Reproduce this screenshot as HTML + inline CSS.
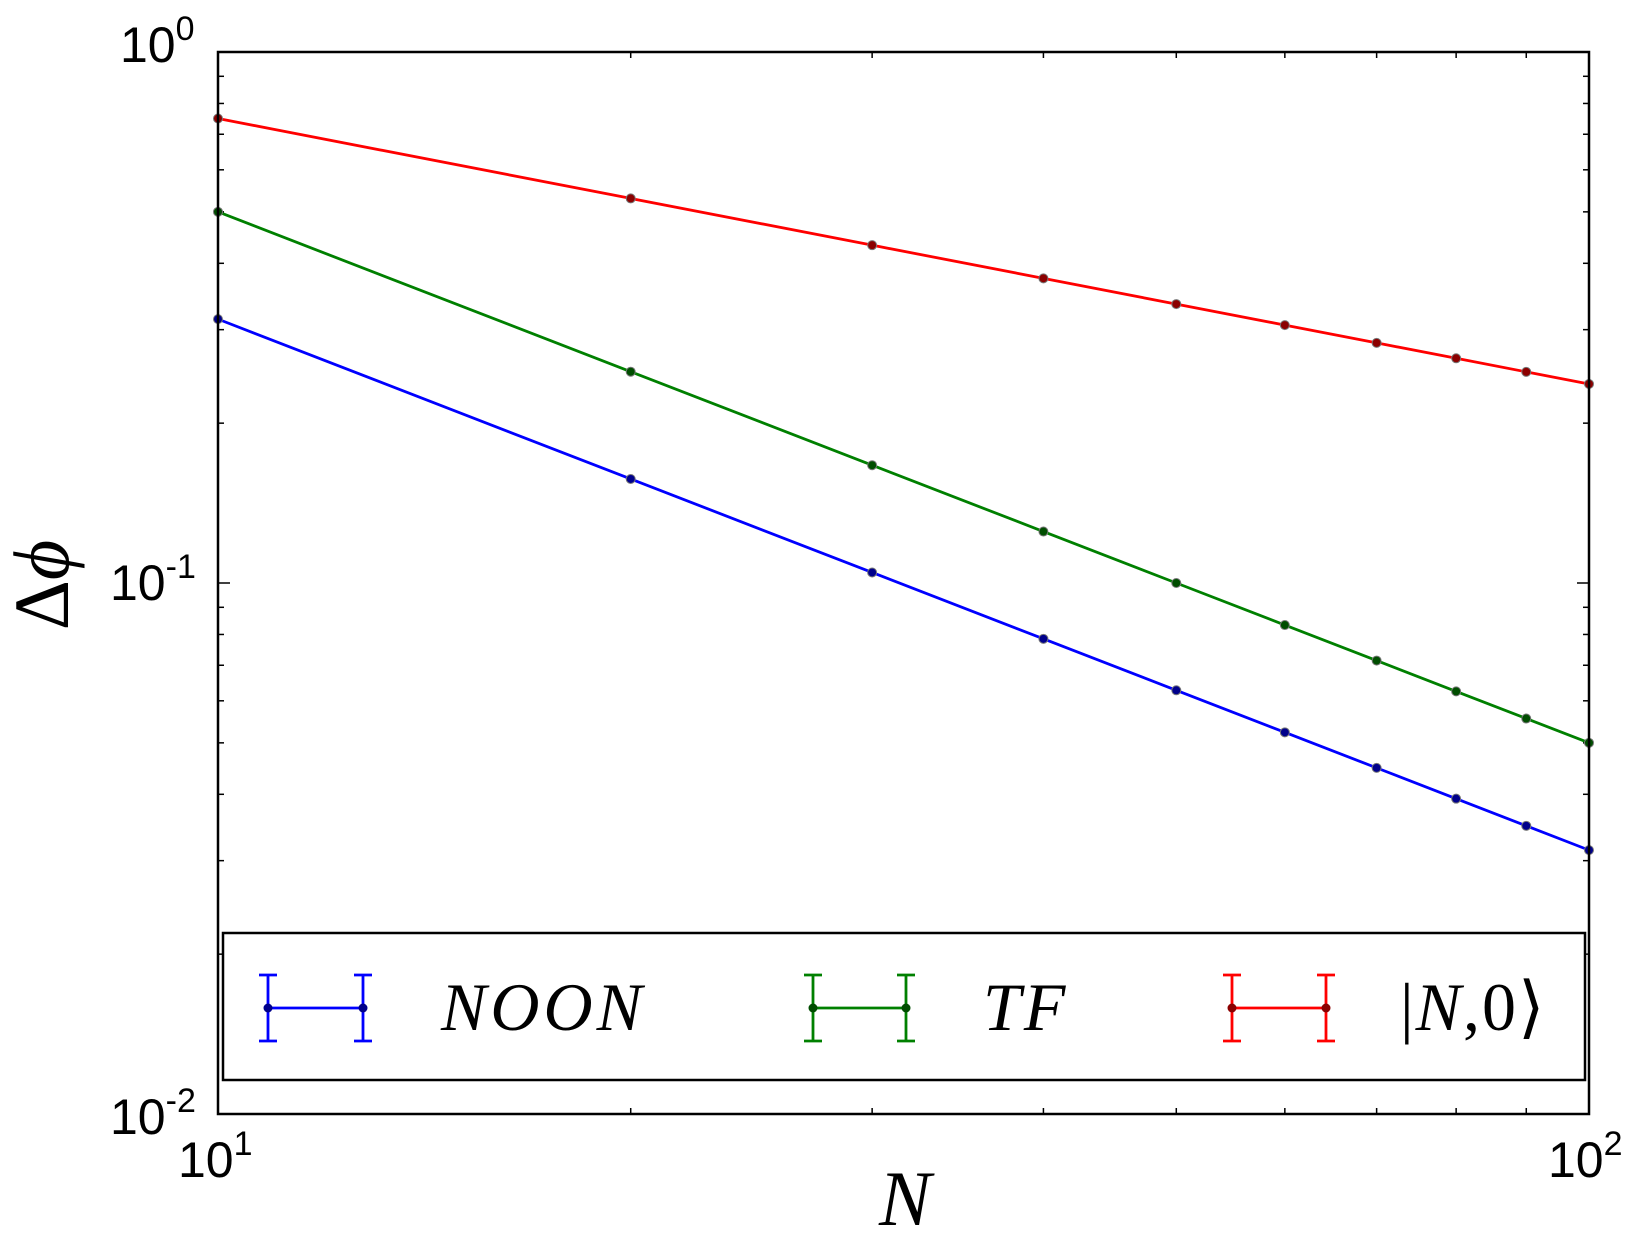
<!DOCTYPE html>
<html><head><meta charset="utf-8"><style>
html,body{margin:0;padding:0;background:#fff;}
svg{display:block;}
text{font-family:"Liberation Sans","DejaVu Sans",sans-serif;fill:#000;}
.s{font-family:"Liberation Serif",serif;font-style:italic;}
</style></head><body>
<svg id="c" width="1640" height="1244" viewBox="0 0 1640 1244" xmlns="http://www.w3.org/2000/svg">
<rect x="0" y="0" width="1640" height="1244" fill="#fff"/>
<g id="g"></g>
<rect x="218" y="52" width="1371" height="1062" fill="none" stroke="#000" stroke-width="2.5"/>
<!-- legend -->
<rect x="223" y="933" width="1362" height="147" fill="#fff" stroke="#000" stroke-width="2.5"/>
<g stroke="#0000ff" stroke-width="2.8" fill="#00008b">
<line x1="268" y1="1008" x2="363" y2="1008"/>
<line x1="268" y1="975" x2="268" y2="1041"/><line x1="259" y1="975" x2="277" y2="975"/><line x1="259" y1="1041" x2="277" y2="1041"/>
<line x1="363" y1="975" x2="363" y2="1041"/><line x1="354" y1="975" x2="372" y2="975"/><line x1="354" y1="1041" x2="372" y2="1041"/>
<circle cx="268" cy="1008" r="4.5" stroke="none"/><circle cx="363" cy="1008" r="4.5" stroke="none"/>
</g>
<g stroke="#008000" stroke-width="2.8" fill="#004d00">
<line x1="813" y1="1008" x2="906" y2="1008"/>
<line x1="813" y1="975" x2="813" y2="1041"/><line x1="804" y1="975" x2="822" y2="975"/><line x1="804" y1="1041" x2="822" y2="1041"/>
<line x1="906" y1="975" x2="906" y2="1041"/><line x1="897" y1="975" x2="915" y2="975"/><line x1="897" y1="1041" x2="915" y2="1041"/>
<circle cx="813" cy="1008" r="4.5" stroke="none"/><circle cx="906" cy="1008" r="4.5" stroke="none"/>
</g>
<g stroke="#ff0000" stroke-width="2.8" fill="#8b0000">
<line x1="1232" y1="1008" x2="1326" y2="1008"/>
<line x1="1232" y1="975" x2="1232" y2="1041"/><line x1="1223" y1="975" x2="1241" y2="975"/><line x1="1223" y1="1041" x2="1241" y2="1041"/>
<line x1="1326" y1="975" x2="1326" y2="1041"/><line x1="1317" y1="975" x2="1335" y2="975"/><line x1="1317" y1="1041" x2="1335" y2="1041"/>
<circle cx="1232" cy="1008" r="4.5" stroke="none"/><circle cx="1326" cy="1008" r="4.5" stroke="none"/>
</g>
<text class="s" x="441" y="1030" font-size="68" letter-spacing="4">NOON</text>
<text class="s" x="983" y="1030" font-size="68" letter-spacing="3">TF</text>
<text class="s" x="1400" y="1030" font-size="68" letter-spacing="2" style="font-style:normal">|<tspan style="font-style:italic">N</tspan>,0⟩</text>
<!-- tick labels -->
<text x="120" y="62" font-size="50">10<tspan dy="-22" font-size="34">0</tspan></text>
<text x="110" y="600" font-size="50">10<tspan dy="-22" font-size="34">-1</tspan></text>
<text x="110" y="1134" font-size="50">10<tspan dy="-22" font-size="34">-2</tspan></text>
<text x="178" y="1177" font-size="50">10<tspan dy="-22" font-size="34">1</tspan></text>
<text x="1548" y="1177" font-size="50">10<tspan dy="-22" font-size="34">2</tspan></text>
<text class="s" x="905" y="1225" font-size="78" text-anchor="middle">N</text>
<text class="s" font-size="78" transform="translate(68,585) rotate(-90)" text-anchor="middle" style="font-style:normal">Δ<tspan style="font-style:italic">ϕ</tspan></text>
</svg>
<script>
(function(){
var g=document.getElementById('g'),ns='http://www.w3.org/2000/svg';
function X(n){return 218+1371*Math.log10(n/10);}
function Y(v){return 52-531*Math.log10(v);}
function el(t,a){var e=document.createElementNS(ns,t);for(var k in a)e.setAttribute(k,a[k]);g.appendChild(e);return e;}
var i,d;
for(d=0;d<2;d++){for(i=1;i<10;i++){var y=Y(Math.pow(10,-2+d)*i);var L=(i==1)?12:6;
el('line',{x1:218,y1:y,x2:218+L,y2:y,stroke:'#000','stroke-width':1.5});
el('line',{x1:1589,y1:y,x2:1589-L,y2:y,stroke:'#000','stroke-width':1.5});}}
for(i=2;i<10;i++){var x=X(i*10);
el('line',{x1:x,y1:1114,x2:x,y2:1108,stroke:'#000','stroke-width':1.5});
el('line',{x1:x,y1:52,x2:x,y2:58,stroke:'#000','stroke-width':1.5});}
var ser=[[function(n){return 2.37/Math.sqrt(n);},'#ff0000','#8b0000'],
[function(n){return 5/n;},'#008000','#004d00'],
[function(n){return 3.14/n;},'#0000ff','#00008b']];
ser.forEach(function(s){var pts=[];for(var n=10;n<=100;n+=10){pts.push(X(n)+','+Y(s[0](n)));}
el('polyline',{points:pts.join(' '),fill:'none',stroke:s[1],'stroke-width':2.8});
for(var n=10;n<=100;n+=10){el('circle',{cx:X(n),cy:Y(s[0](n)),r:4.5,fill:s[2],stroke:'#777','stroke-width':1});}});
})();
</script>
</body></html>
